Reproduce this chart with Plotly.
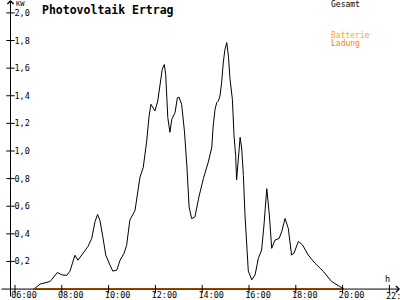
import plotly.graph_objects as go

# ---- data (hours of day, kW) ----
hours = [6.81, 7.07, 7.50, 7.71, 7.81, 8.00, 8.21, 8.35, 8.56, 8.69, 8.91, 9.12, 9.28, 9.42,
         9.53, 9.63, 9.75, 9.88, 10.06, 10.18, 10.35, 10.49, 10.66, 10.77, 10.91, 11.13, 11.34,
         11.48, 11.63, 11.73, 11.81, 11.91, 11.98, 12.10, 12.20, 12.29, 12.38, 12.44, 12.53,
         12.62, 12.70, 12.84, 12.94, 13.01, 13.12, 13.24, 13.34, 13.44, 13.55, 13.69, 13.86,
         14.05, 14.26, 14.41, 14.47, 14.55, 14.62, 14.69, 14.76, 14.83, 14.90, 14.97, 15.05,
         15.12, 15.19, 15.29, 15.36, 15.43, 15.47, 15.54, 15.62, 15.69, 15.76, 15.83, 15.97,
         16.12, 16.26, 16.40, 16.54, 16.64, 16.76, 16.87, 16.97, 17.11, 17.29, 17.40, 17.54,
         17.68, 17.82, 17.92, 18.11, 18.29, 18.53, 18.82, 19.18, 19.53, 19.82, 20.05]
gesamt = [0.00, 0.036, 0.055, 0.094, 0.12, 0.103, 0.099, 0.13, 0.245, 0.209, 0.259, 0.309,
          0.367, 0.489, 0.54, 0.496, 0.381, 0.245, 0.173, 0.13, 0.137, 0.209, 0.259, 0.317,
          0.50, 0.57, 0.81, 0.88, 1.074, 1.254, 1.338, 1.314, 1.29, 1.362, 1.494, 1.59, 1.626,
          1.554, 1.242, 1.135, 1.23, 1.278, 1.386, 1.39, 1.338, 1.146, 0.906, 0.595, 0.51,
          0.523, 0.667, 0.80, 0.919, 1.027, 1.182, 1.302, 1.35, 1.362, 1.398, 1.494, 1.638,
          1.734, 1.785, 1.686, 1.518, 1.374, 1.11, 0.966, 0.79, 0.966, 1.099, 1.014, 0.822,
          0.532, 0.13, 0.067, 0.103, 0.223, 0.283, 0.463, 0.727, 0.535, 0.295, 0.355, 0.367,
          0.417, 0.511, 0.439, 0.247, 0.259, 0.345, 0.319, 0.247, 0.187, 0.127, 0.055, 0.027,
          0.00]
ladung_hours = [6.78, 20.0]
ladung = [0.0, 0.0]

x_tick_vals = [6, 8, 10, 12, 14, 16, 18, 20, 22]
x_tick_text = ["06:00", "08:00", "10:00", "12:00", "14:00", "16:00", "18:00", "20:00"]
last_tick_text = "22:"   # cut by the right edge in the reference
y_tick_vals = [0.2, 0.4, 0.6, 0.8, 1.0, 1.2, 1.4, 1.6, 1.8, 2.0]
y_tick_text = ["0,2", "0,4", "0,6", "0,8", "1,0", "1,2", "1,4", "1,6", "1,8", "2,0"]

X_RANGE = [5.359, 22.453]
Y_RANGE = [-0.0647, 2.0935]
Y_AXIS_X = 5.808

FONT = "DejaVu Sans Mono"
BLACK = "#000000"
ORANGE = "#FF8000"
GOLD = "#FFAA00"

fig = go.Figure()

fig.add_trace(go.Scatter(x=hours, y=gesamt, mode="lines",
                         line=dict(color=BLACK, width=1), hoverinfo="skip"))
fig.add_trace(go.Scatter(x=ladung_hours, y=ladung, mode="lines",
                         line=dict(color=ORANGE, width=2), hoverinfo="skip"))

# tick marks crossing the axes
fig.add_trace(go.Scatter(x=x_tick_vals, y=[0] * len(x_tick_vals), mode="markers",
                         marker=dict(symbol="line-ns", size=6, line=dict(width=1, color=BLACK)),
                         cliponaxis=False, hoverinfo="skip"))
fig.add_trace(go.Scatter(x=[Y_AXIS_X] * len(y_tick_vals), y=y_tick_vals, mode="markers",
                         marker=dict(symbol="line-ew", size=6, line=dict(width=1, color=BLACK)),
                         cliponaxis=False, hoverinfo="skip"))

fig.update_layout(
    width=400, height=300,
    margin=dict(l=0, r=0, t=0, b=0),
    paper_bgcolor="white", plot_bgcolor="white",
    showlegend=False,
    font=dict(family=FONT, size=8.5, color=BLACK),
    xaxis=dict(range=X_RANGE, showgrid=False, zeroline=False, showline=False,
               tickmode="array", tickvals=x_tick_vals[:-1], ticktext=x_tick_text,
               ticks="", anchor="free", position=9 / 300,
               ticklabelshift=9, ticklabelstandoff=-1, ticklabeloverflow="allow",
               tickfont=dict(family=FONT, size=8.5, color=BLACK)),
    yaxis=dict(range=Y_RANGE, showgrid=False, zeroline=False, showline=False,
               tickmode="array", tickvals=y_tick_vals, ticktext=y_tick_text,
               ticks="", anchor="free", position=10.5 / 400,
               ticklabelposition="inside", ticklabelstandoff=0, ticklabeloverflow="allow",
               tickfont=dict(family=FONT, size=8.5, color=BLACK)),
)

# last x label, left-aligned like the others
fig.add_annotation(x=x_tick_vals[-1], y=0, xref="x", yref="y", xanchor="left", yanchor="top",
                   xshift=-5, yshift=0, showarrow=False, text=last_tick_text,
                   font=dict(family=FONT, size=8.5, color=BLACK))

# axis lines with arrowheads
fig.add_annotation(x=Y_AXIS_X, y=Y_RANGE[1], ax=Y_AXIS_X, ay=Y_RANGE[0],
                   xref="x", yref="y", axref="x", ayref="y", text="",
                   showarrow=True, arrowhead=4, arrowwidth=1, arrowsize=1.2, arrowcolor=BLACK)
fig.add_annotation(x=X_RANGE[1], y=0, ax=X_RANGE[0], ay=0,
                   xref="x", yref="y", axref="x", ayref="y", text="",
                   showarrow=True, arrowhead=4, arrowwidth=1, arrowsize=1.2, arrowcolor=BLACK)

# texts
fig.add_annotation(x=40 / 400, y=1 - 10 / 300, xref="paper", yref="paper",
                   xanchor="left", yanchor="middle", showarrow=False,
                   text="<b>Photovoltaik Ertrag</b>", font=dict(family=FONT, size=11.5, color=BLACK))
fig.add_annotation(x=14 / 400, y=1 - 4.5 / 300, xref="paper", yref="paper",
                   xanchor="left", yanchor="middle", showarrow=False,
                   text="KW", font=dict(family=FONT, size=7, color=BLACK))
fig.add_annotation(x=383 / 400, y=1 - 281 / 300, xref="paper", yref="paper",
                   xanchor="left", yanchor="middle", showarrow=False,
                   text="h", font=dict(family=FONT, size=8.5, color=BLACK))
fig.add_annotation(x=329 / 400, y=1 - 4.5 / 300, xref="paper", yref="paper",
                   xanchor="left", yanchor="middle", showarrow=False,
                   text="Gesamt", font=dict(family=FONT, size=8, color=BLACK))
fig.add_annotation(x=329 / 400, y=1 - 36 / 300, xref="paper", yref="paper",
                   xanchor="left", yanchor="middle", showarrow=False,
                   text="Batterie", font=dict(family=FONT, size=8, color=GOLD))
fig.add_annotation(x=329 / 400, y=1 - 44 / 300, xref="paper", yref="paper",
                   xanchor="left", yanchor="middle", showarrow=False,
                   text="Ladung", font=dict(family=FONT, size=8, color=ORANGE))

fig.write_html("out.html")
